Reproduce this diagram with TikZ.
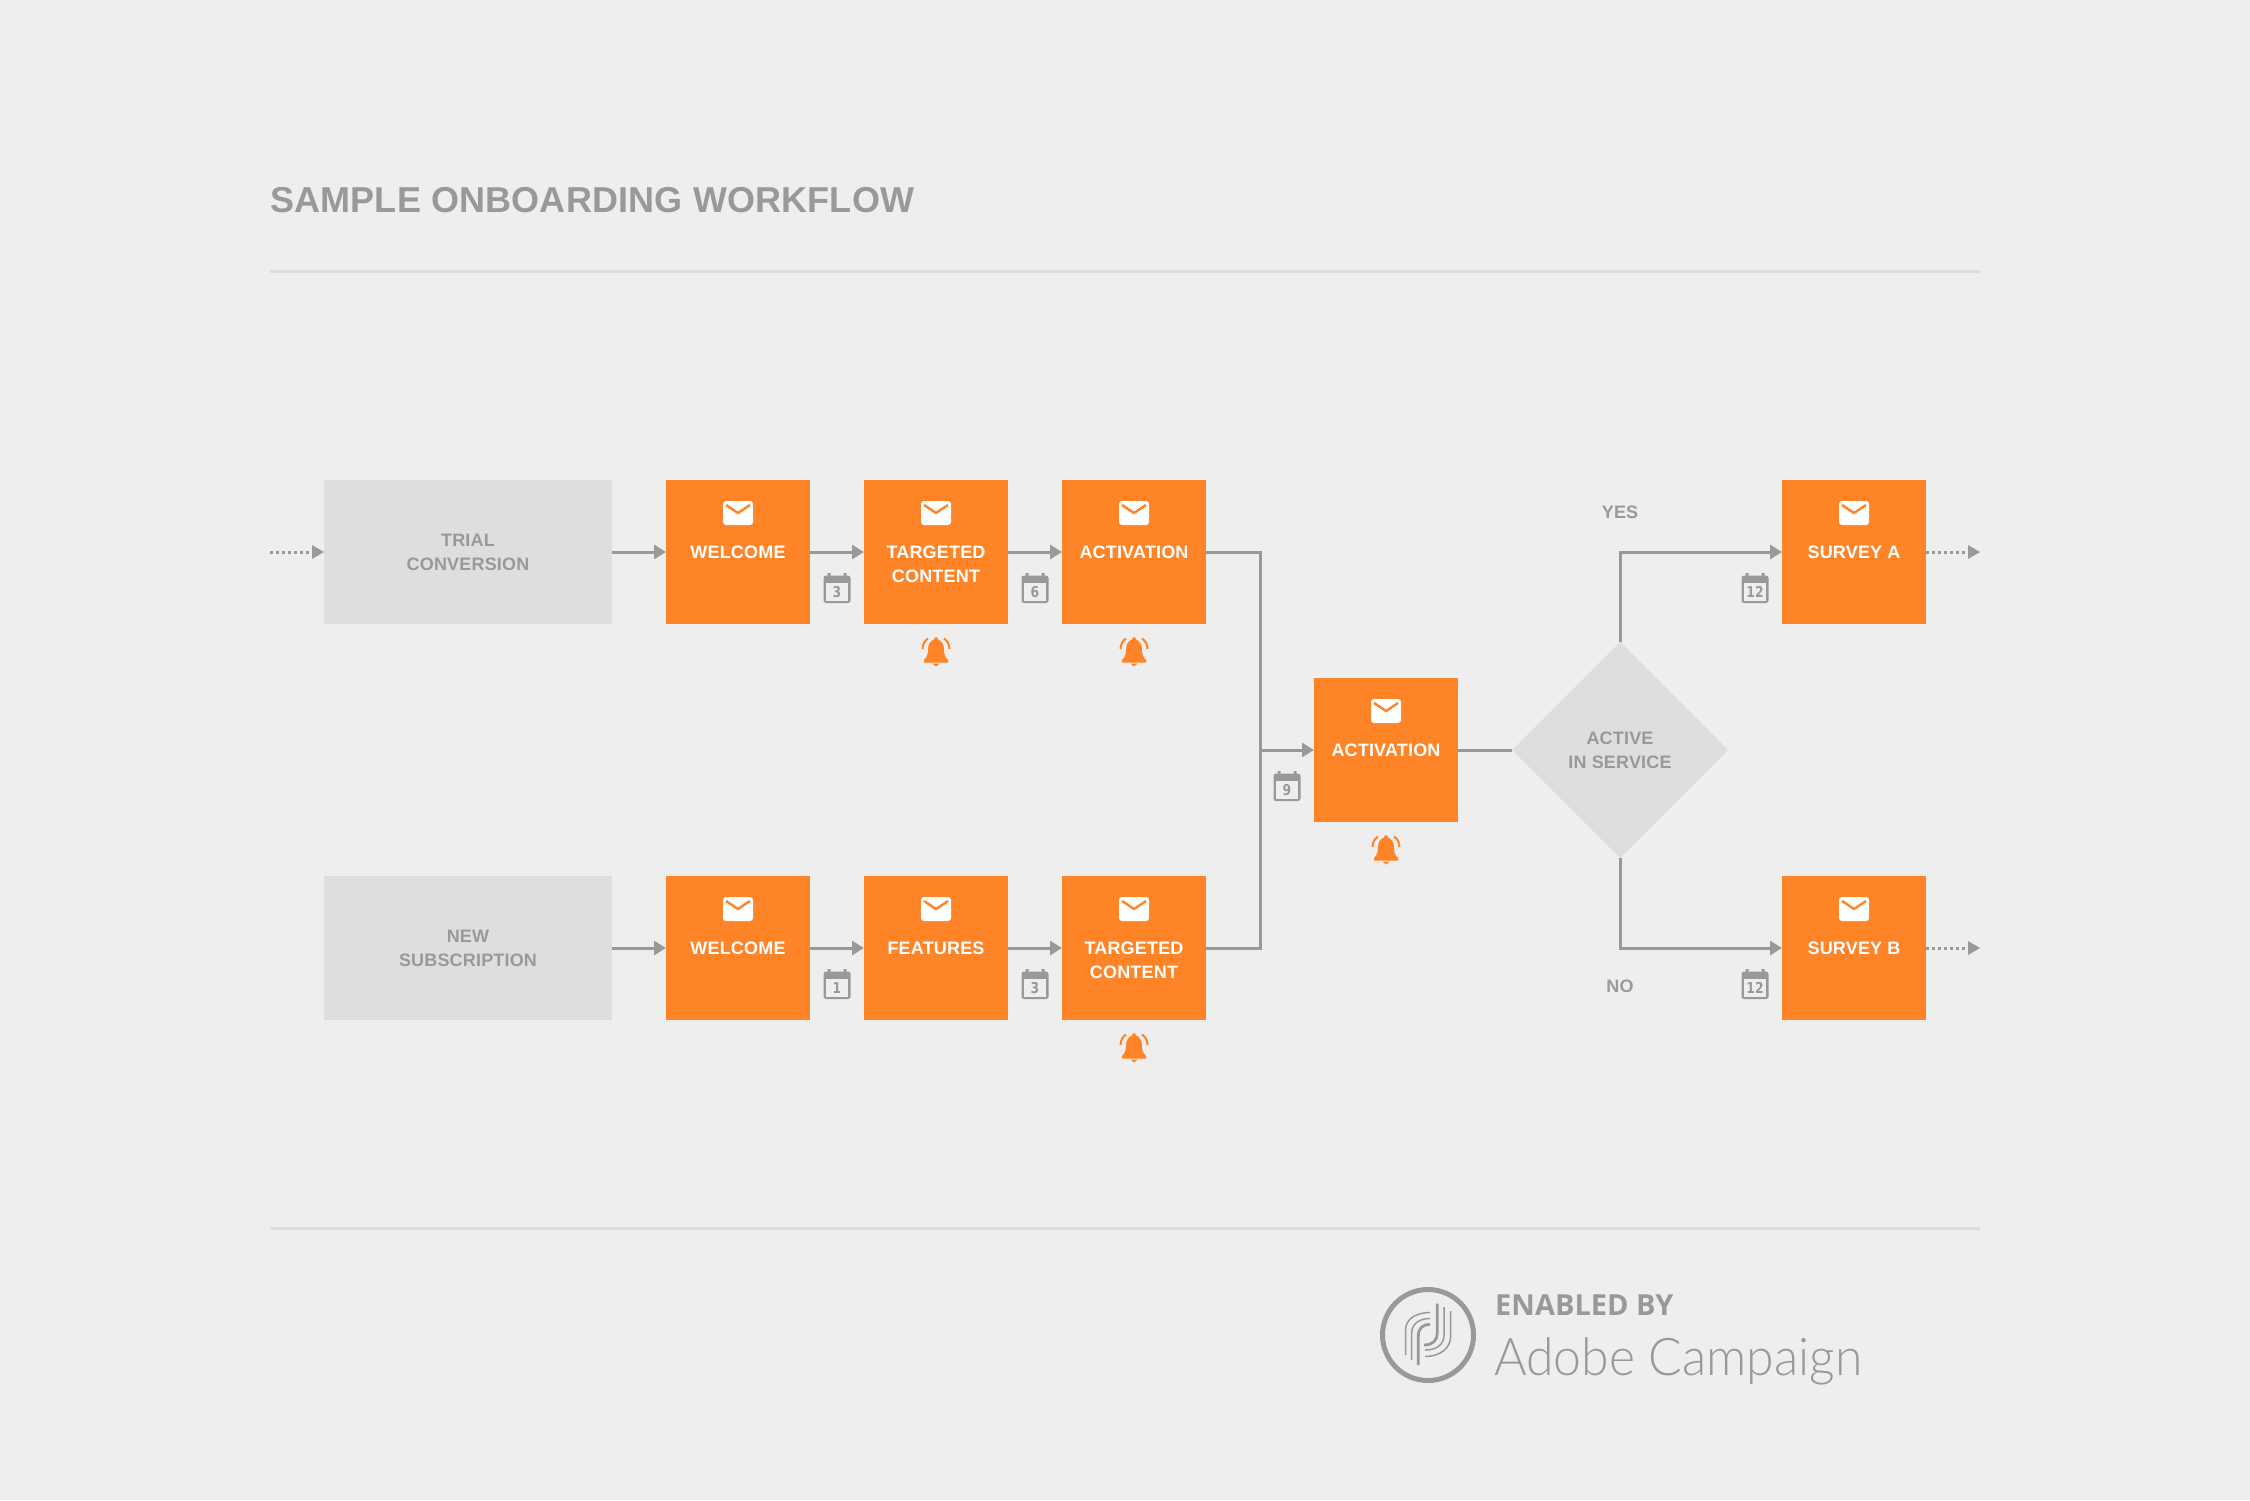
\documentclass[tikz,border=0pt]{standalone}
\usepackage{fontspec}
\usetikzlibrary{arrows.meta,shapes.geometric}
\setmainfont{Liberation Sans}
\newfontfamily\uifont[LetterSpace=1.0]{Liberation Sans}
\newfontfamily\titlefont[LetterSpace=0.5]{Liberation Sans}
\newfontfamily\calfont[FakeStretch=0.82]{DejaVu Sans}
\newfontfamily\logobold{Open Sans}
\newfontfamily\logolight[FakeStretch=0.96]{Lato Light}
\definecolor{pagebg}{HTML}{EEEEEE}
\definecolor{rulec}{HTML}{DDDDDD}
\definecolor{graybox}{HTML}{DEDEDE}
\definecolor{inkgray}{HTML}{999999}
\definecolor{brand}{HTML}{FF8427}
\tikzset{
  x=1pt,y=-1pt,
  mailbox/.style={rectangle,fill=brand,minimum width=144pt,minimum height=144pt,inner sep=0pt,outer sep=0pt,text=white,font=\uifont\fontsize{18}{24}\selectfont\bfseries,align=center},
  mailtext/.style={inner sep=0pt,outer sep=0pt,text=white,font=\uifont\fontsize{18}{24}\selectfont\bfseries,align=center},
  sourcebox/.style={rectangle,fill=graybox,minimum width=288pt,minimum height=144pt,inner sep=0pt,outer sep=0pt,text=inkgray,font=\uifont\fontsize{18}{24}\selectfont\bfseries,align=center},
  decision/.style={diamond,aspect=1,fill=graybox,minimum width=216pt,minimum height=216pt,inner sep=0pt,outer sep=0pt,text=inkgray,font=\uifont\fontsize{18}{24}\selectfont\bfseries,align=center},
  branchtext/.style={inner sep=0pt,outer sep=0pt,text=inkgray,font=\uifont\fontsize{18}{24}\selectfont\bfseries},
  flow/.style={draw=inkgray,line width=3pt},
  flowarrow/.style={flow,-{Triangle[length=12pt,width=14pt]}},
  dotline/.style={draw=inkgray,line width=3pt,dash pattern=on 3pt off 3pt},
  headtip/.style={fill=inkgray},
  hairline/.style={draw=rulec,line width=3pt},
}
% envelope icon centred at (x,y)
\newcommand{\envicon}[2]{\begin{scope}[shift={(#1,#2)}]
  \fill[white,rounded corners=3pt] (-15,-12) rectangle (15,12);
  \draw[brand,line width=2.4pt,miter limit=10] (-12,-8) -- (0,0) -- (12,-8);
\end{scope}}
% bell icon, #1 = centre x, #2 = top y
\newcommand{\bellicon}[2]{\begin{scope}[shift={(#1,#2)}]
  \fill[brand] (-12,25.5) -- (-12,23) .. controls (-8.5,20) and (-8,16) .. (-8,12)
     .. controls (-8,7) and (-5,3.5) .. (-2,2.5) .. controls (-2,-0.6) and (2,-0.6) .. (2,2.5)
     .. controls (5,3.5) and (8,7) .. (8,12) .. controls (8,16) and (8.5,20) .. (12,23) -- (12,25.5) -- cycle;
  \fill[brand] (-3.7,26.5) -- (3.7,26.5) -- (0,29.5) -- cycle;
  \draw[brand,line width=2pt] (-13.5,12) .. controls (-13.5,7) and (-11,3.5) .. (-8,1.5);
  \draw[brand,line width=2pt] (13.5,12) .. controls (13.5,7) and (11,3.5) .. (8,1.5);
\end{scope}}
% calendar icon, #1 = centre x, #2 = top y, #3 = number
\newcommand{\calicon}[3]{\begin{scope}[shift={(#1,#2)}]
  \fill[inkgray,rounded corners=2.5pt] (-13.5,2.5) rectangle (13.5,30);
  \fill[inkgray] (-9.5,0) rectangle (-6.5,4) (6.5,0) rectangle (9.5,4);
  \fill[pagebg] (-11,10) rectangle (11,27.5);
  \node[inner sep=0pt,text=inkgray,font=\calfont\fontsize{15}{15}\selectfont\bfseries] at (0,18.8) {#3};
\end{scope}}
\begin{document}
\begin{tikzpicture}
\useasboundingbox (0,0) rectangle (2250,1500);
\fill[pagebg] (0,0) rectangle (2250,1500);

% title and rules
\node[anchor=west,inner sep=0pt,text=inkgray,font=\titlefont\fontsize{36}{36}\selectfont\bfseries] (title) at (270,200) {SAMPLE ONBOARDING WORKFLOW};
\coordinate (hl) at (270,271); \coordinate (hr) at (1980,271);
\coordinate (fl) at (270,1228); \coordinate (fr) at (1980,1228);
\draw[hairline] (hl) -- (hr);
\draw[hairline] (fl) -- (fr);

% grey sources
\node[sourcebox] (trial) at (468,552) {TRIAL\\CONVERSION};
\node[sourcebox] (newsub) at (468,948) {NEW\\SUBSCRIPTION};

% top row
\node[mailbox] (welA) at (738,552) {WELCOME};
\node[mailbox] (tarA) at (936,552) {};
\node[mailtext] (tarAt) at (936,564) {TARGETED\\CONTENT};
\node[mailbox] (actA) at (1134,552) {ACTIVATION};
% bottom row
\node[mailbox] (welB) at (738,948) {WELCOME};
\node[mailbox] (feaB) at (936,948) {FEATURES};
\node[mailbox] (tarB) at (1134,948) {};
\node[mailtext] (tarBt) at (1134,960) {TARGETED\\CONTENT};
% merge
\node[mailbox] (actC) at (1386,750) {ACTIVATION};
\node[decision] (dec) at (1620,750) {ACTIVE\\IN SERVICE};
\node[mailbox] (surA) at (1854,552) {SURVEY A};
\node[mailbox] (surB) at (1854,948) {SURVEY B};
\node[branchtext] (yes) at (1620,512) {YES};
\node[branchtext] (no) at (1620,986) {NO};

% open ends
\coordinate (inS) at (270,552);
\coordinate (inE) at (312,552);
\coordinate (outAs) at (1926,552);
\coordinate (outAe) at (1968,552);
\coordinate (outBs) at (1926,948);
\coordinate (outBe) at (1968,948);
\coordinate (merge) at (1260,750);

% connectors
\draw[flowarrow] (trial.east) -- (welA.west);
\draw[flowarrow] (welA.east) -- (tarA.west);
\draw[flowarrow] (tarA.east) -- (actA.west);
\draw[flowarrow] (newsub.east) -- (welB.west);
\draw[flowarrow] (welB.east) -- (feaB.west);
\draw[flowarrow] (feaB.east) -- (tarB.west);
\draw[flow] (actA.east) -| (merge);
\draw[flow] (tarB.east) -| (merge);
\draw[flowarrow] (merge) -- (actC.west);
\draw[flow] (actC.east) -- (dec.west);
\draw[flowarrow] (dec.north) |- (surA.west);
\draw[flowarrow] (dec.south) |- (surB.west);

% dotted stubs
\draw[dotline] (inS) -- (inE);
\fill[headtip] (312,545) -- (324,552) -- (312,559) -- cycle;
\draw[dotline] (outAs) -- (outAe);
\fill[headtip] (1968,545) -- (1980,552) -- (1968,559) -- cycle;
\draw[dotline] (outBs) -- (outBe);
\fill[headtip] (1968,941) -- (1980,948) -- (1968,955) -- cycle;

% envelopes
\envicon{738}{513}\envicon{936}{513}\envicon{1134}{513}
\envicon{738}{909}\envicon{936}{909}\envicon{1134}{909}
\envicon{1386}{711}\envicon{1854}{513}\envicon{1854}{909}

% calendars
\calicon{837}{573}{3}\calicon{1035}{573}{6}
\calicon{837}{969}{1}\calicon{1035}{969}{3}
\calicon{1287}{771}{9}
\calicon{1755}{573}{12}\calicon{1755}{969}{12}

% bells
\bellicon{936}{637}\bellicon{1134}{637}
\bellicon{1134}{1033}\bellicon{1386}{835}

% logo
\draw[inkgray,line width=5pt] (1428,1335) circle (45.5pt);
\begin{scope}[shift={(1395,1295)},inkgray,line cap=butt]
  \draw[line width=2.8pt] (42.3,8.5) -- (42.3,38) .. controls (42.3,45) and (38,50) .. (29,50);
  \draw[line width=1.5pt] (49,12) -- (49,40) .. controls (49,50) and (41,55) .. (30,55);
  \draw[line width=1.5pt] (55.7,16) -- (55.7,41) .. controls (55.7,54) and (44,61.5) .. (30,61.5);
  \draw[line width=2.8pt] (23.3,70) -- (23.3,41) .. controls (23.3,33) and (28,29.3) .. (35,29.3);
  \draw[line width=1.5pt] (16.7,65) -- (16.7,38) .. controls (16.7,29) and (24,23.5) .. (35,23.5);
  \draw[line width=1.5pt] (10.5,60) -- (10.5,35) .. controls (10.5,24) and (21,17.5) .. (35,17.5);
\end{scope}
\node[anchor=base west,inner sep=0pt,text=inkgray,font=\logobold\fontsize{29}{29}\selectfont\bfseries] (enabled) at (1495,1315) {ENABLED BY};
\node[anchor=base west,inner sep=0pt,text=inkgray,font=\logolight\fontsize{52}{52}\selectfont] (adobe) at (1494,1375) {Adobe Campaign};
\end{tikzpicture}
\end{document}
